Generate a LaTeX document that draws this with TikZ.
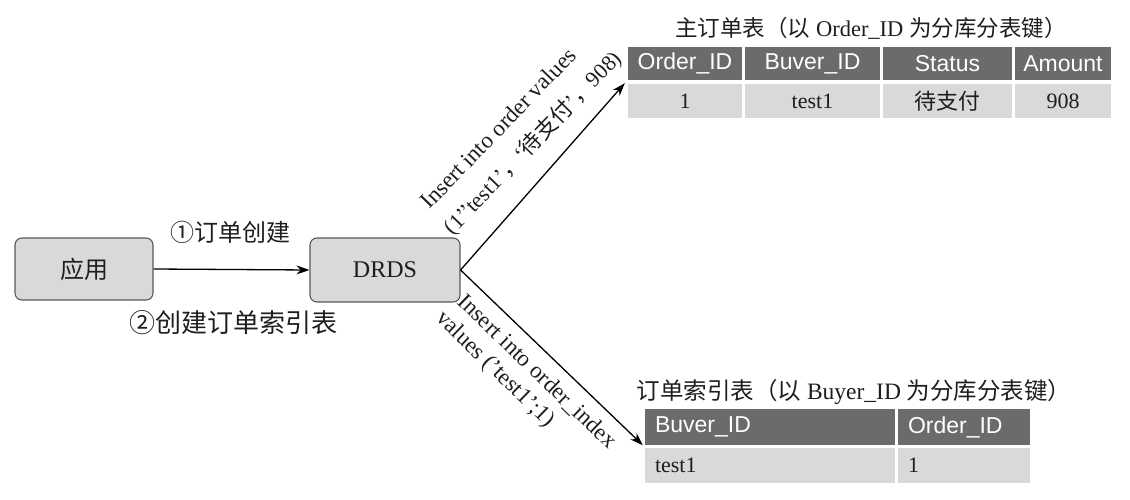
\documentclass[tikz,border=0pt]{standalone}
\usepackage{fontspec}
\setmainfont{Liberation Serif}
\newfontfamily\hfont{Liberation Sans}
\newfontfamily\cjk{Noto Sans CJK SC}
\usetikzlibrary{arrows.meta}
\definecolor{hdr}{HTML}{6B6B6B}
\definecolor{cellbg}{HTML}{D9D9D9}
\definecolor{ink}{HTML}{1E1E1E}
\begin{document}
\begin{tikzpicture}[x=1pt,y=-1pt,
  box/.style={draw=black!65, fill=cellbg, rounded corners=7pt, line width=1.1pt, inner sep=0pt, text=ink, font=\fontsize{24}{28}\selectfont},
  hcell/.style={fill=hdr, text=white, inner sep=0pt, font=\hfont\fontsize{23}{27}\selectfont},
  dcell/.style={fill=cellbg, text=ink, inner sep=0pt, font=\fontsize{22}{26}\selectfont},
  lcell/.style={inner xsep=10pt, inner ysep=0pt, align=left},
  lbl/.style={text=ink, inner sep=0pt, font=\fontsize{23}{27}\selectfont},
  arr/.style={draw=black, line width=1.3pt, -{Stealth[length=13pt,width=9pt]}}]
\useasboundingbox (0,0) rectangle (1130,500);
% boxes
\node[box, minimum width=138pt, minimum height=62pt] (app) at (84,269) {\cjk 应用};
\node[box, minimum width=150pt, minimum height=64pt] (drds) at (385,270) {DRDS};
\draw[arr] (app.east) -- (drds.west);
\node[lbl, font=\fontsize{24}{28}\selectfont] (l1) at (230,232) {\cjk ①订单创建};
\node[lbl, font=\fontsize{26}{30}\selectfont] (l2) at (233,323) {\cjk ②创建订单索引表};
% upper table
\node[lbl, font=\fontsize{22.5}{27}\selectfont] (t1) at (871,28) {{\cjk 主订单表（以} Order\_ID {\cjk 为分库分表键）}};
\node[hcell, minimum width=114pt, minimum height=33pt] (oh1) at (685,63.5) {Order\_ID};
\node[hcell, minimum width=135pt, minimum height=33pt] (oh2) at (812.5,63.5) {Buver\_ID};
\node[hcell, minimum width=129pt, minimum height=33pt] (oh3) at (947.5,63.5) {Status};
\node[hcell, minimum width=96pt, minimum height=33pt] (oh4) at (1063,63.5) {Amount};
\node[dcell, minimum width=114pt, minimum height=34pt] (od1) at (685,101) {1};
\node[dcell, minimum width=135pt, minimum height=34pt] (od2) at (812.5,101) {test1};
\node[dcell, minimum width=129pt, minimum height=34pt] (od3) at (947.5,101) {\cjk 待支付};
\node[dcell, minimum width=96pt, minimum height=34pt] (od4) at (1063,101) {908};
% lower table
\node[lbl, font=\fontsize{23.5}{27}\selectfont] (t2) at (854,392) {{\cjk 订单索引表（以} Buyer\_ID {\cjk 为分库分表键）}};
\node[hcell, lcell, text width=230pt, minimum height=36pt] (ih1) at (770,427) {Buver\_ID};
\node[hcell, lcell, text width=112pt, minimum height=36pt] (ih2) at (964,427) {Order\_ID};
\node[dcell, lcell, text width=230pt, minimum height=35pt] (id1) at (770,465.5) {test1};
\node[dcell, lcell, text width=112pt, minimum height=35pt] (id2) at (964,465.5) {1};
% arrows to tables
\draw[arr] (drds.east) -- ([shift={(-3,3)}]oh1.south west);
\draw[arr] (drds.east) -- ([shift={(-2,0)}]ih1.south west);
% arrow labels
\node[lbl, rotate=46] (a1) at (498,128) {Insert into order values};
\node[lbl, rotate=46, font=\fontsize{22}{26}\selectfont] (a2) at (533,143) {(1’'test1'{\cjk ，}‘{\cjk 待支付}’{\cjk ，}908)};
\node[lbl, rotate=-44] (b1) at (537,372) {Insert into order\_index};
\node[lbl, rotate=-44] (b2) at (495,370) {values ('test1';1)};
\end{tikzpicture}
\end{document}
